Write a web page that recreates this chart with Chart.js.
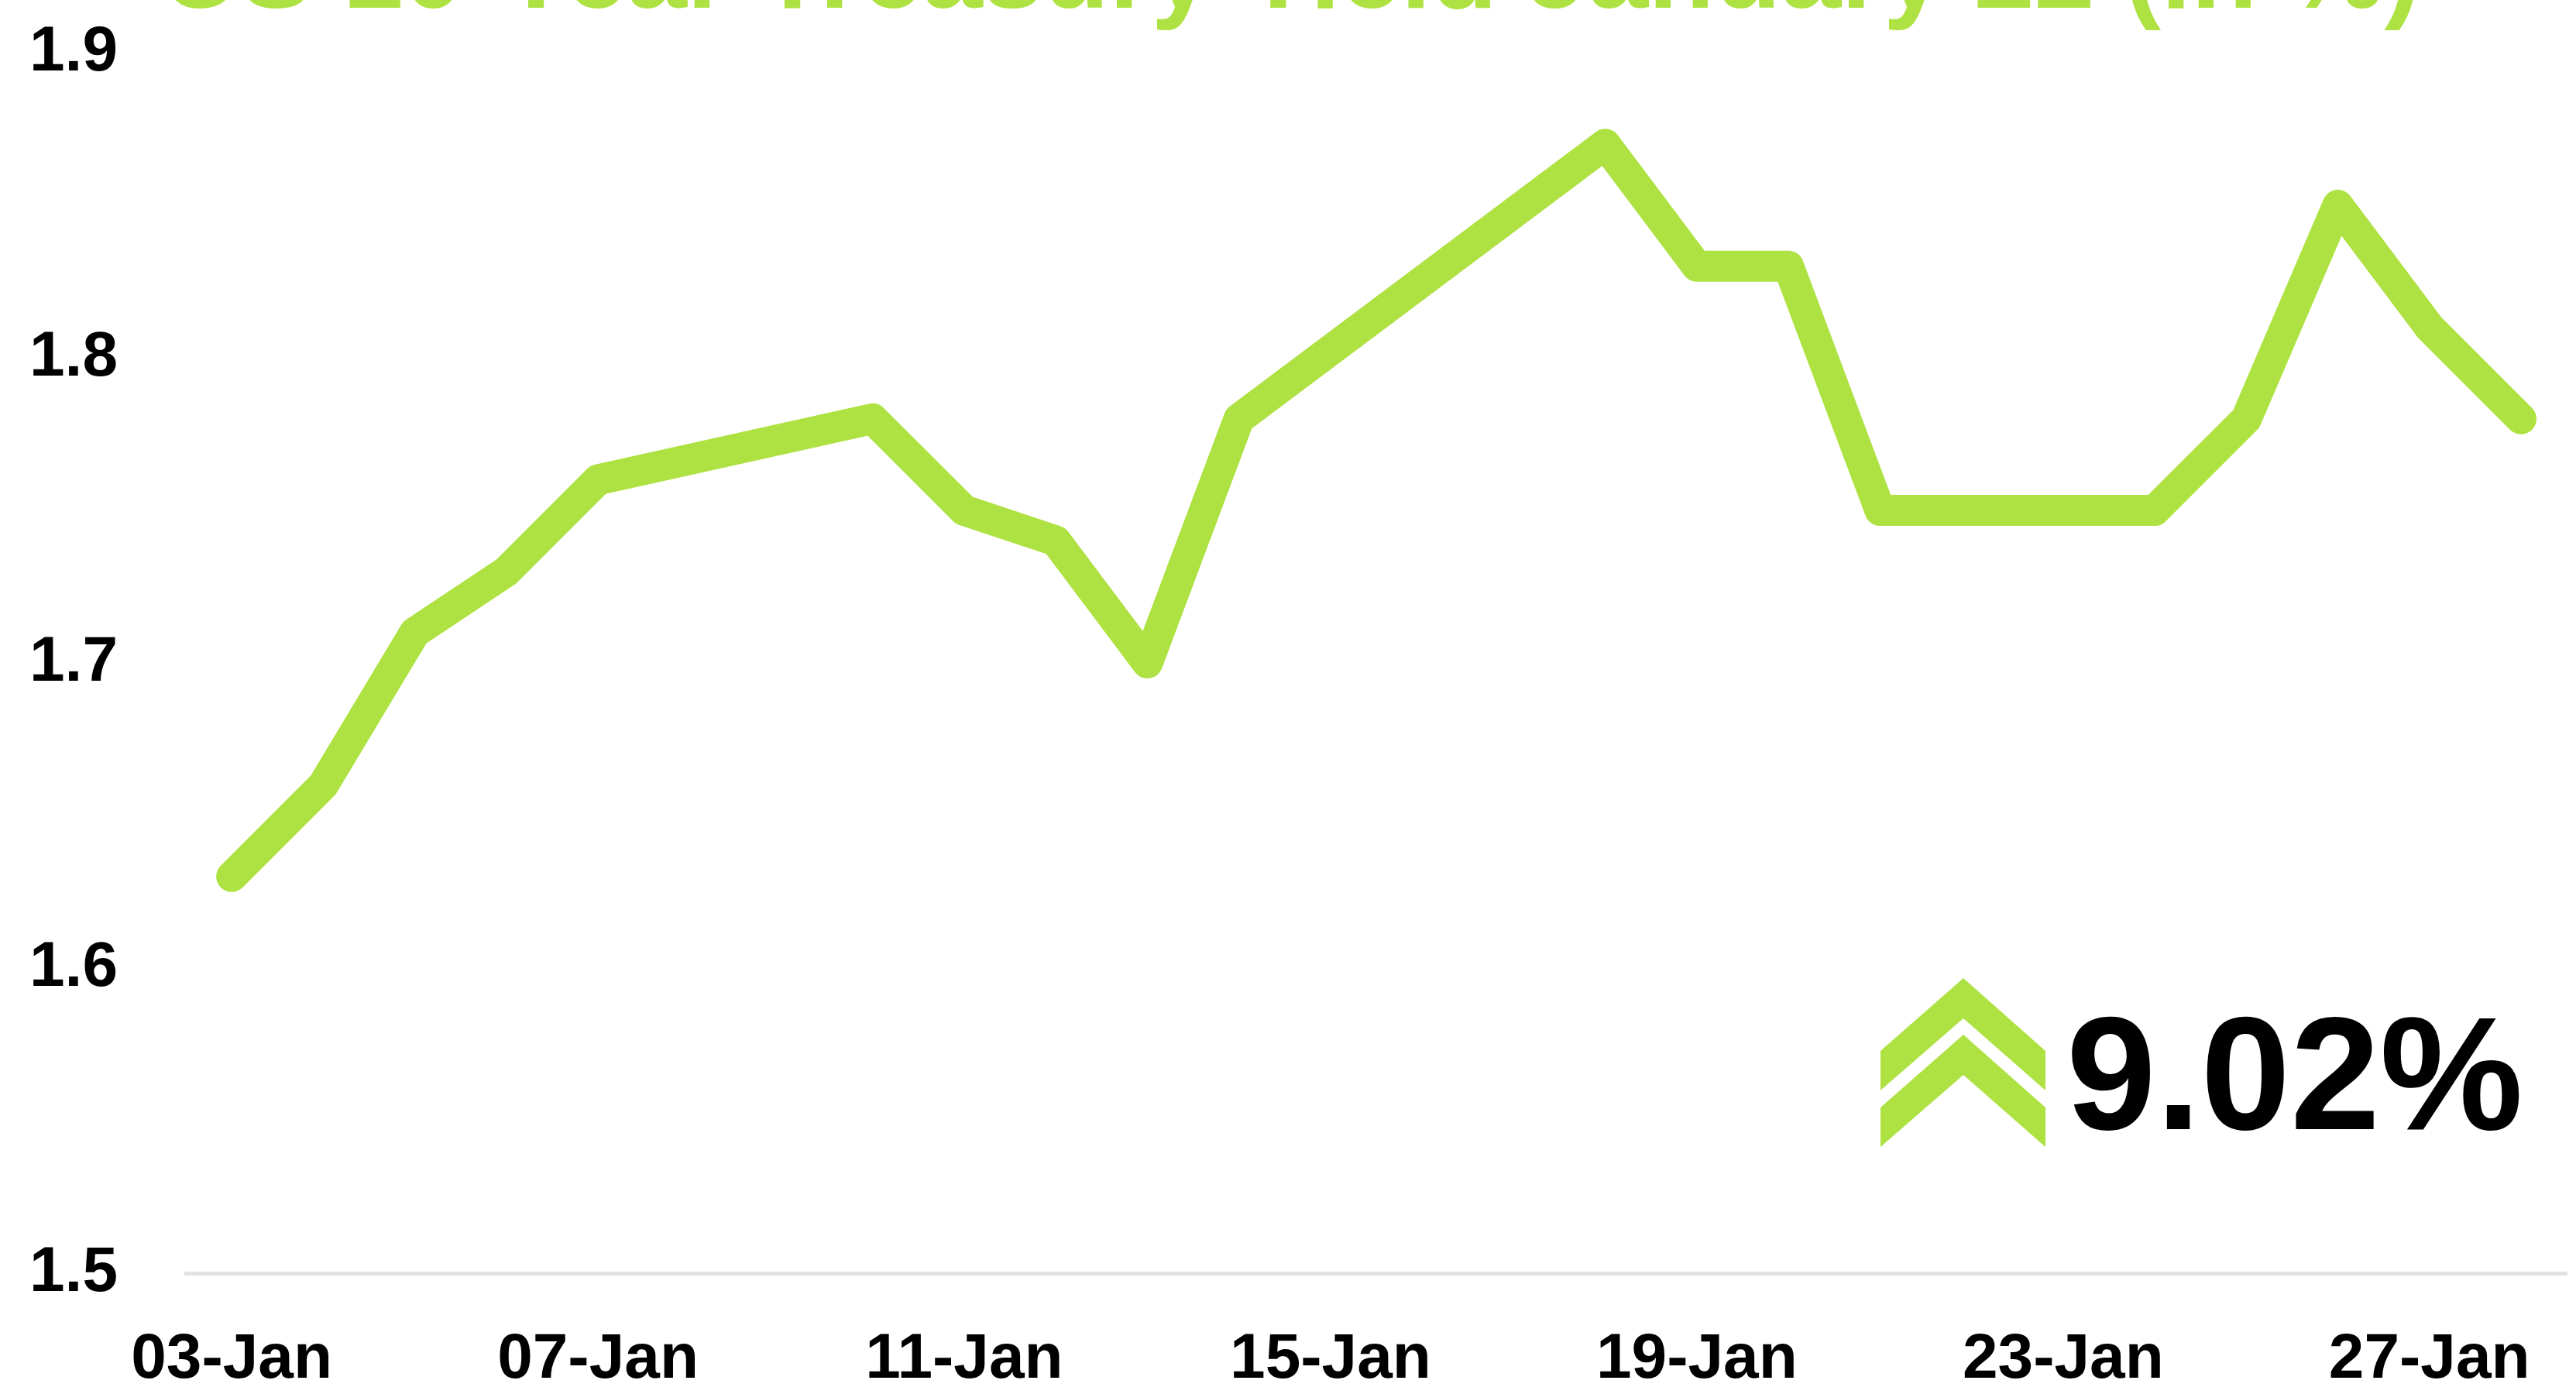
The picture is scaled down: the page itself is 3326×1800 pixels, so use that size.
<!DOCTYPE html>
<html>
<head>
<meta charset="utf-8">
<script src="https://cdn.jsdelivr.net/npm/chart.js@4.4.0/dist/chart.umd.min.js"></script>
<style>
  body { margin: 0; background: #fff; }
</style>
</head>
<body>
<canvas id="yieldChart" width="3326" height="1800"></canvas>
<script>
// daily categories, nulls = no trading (weekends, MLK day)
const days = ['03-Jan','04-Jan','05-Jan','06-Jan','07-Jan','08-Jan','09-Jan','10-Jan','11-Jan','12-Jan',
  '13-Jan','14-Jan','15-Jan','16-Jan','17-Jan','18-Jan','19-Jan','20-Jan','21-Jan','22-Jan',
  '23-Jan','24-Jan','25-Jan','26-Jan','27-Jan','28-Jan'];
const yields = [1.63, 1.66, 1.71, 1.73, 1.76, null, null, 1.78, 1.75, 1.74,
  1.70, 1.78, null, null, null, 1.87, 1.83, 1.83, 1.75, null,
  null, 1.75, 1.78, 1.85, 1.81, 1.78];
const yTicks = [1.5, 1.6, 1.7, 1.8, 1.9];
const titleText = 'US 10-Year Treasury Yield January 22 (in %)';
const changeText = '9.02%';

const green = '#aee242';

// title (cut at top edge), chevrons and the change figure
const extras = {
  id: 'extras',
  afterDraw(chart) {
    const ctx = chart.ctx;
    ctx.save();
    // title, fitted to its width in the picture
    let size = 100;
    ctx.font = 'bold ' + size + 'px "Liberation Sans"';
    const w = ctx.measureText(titleText).width;
    size = size * 2916 / w;
    ctx.font = 'bold ' + size + 'px "Liberation Sans"';
    ctx.fillStyle = green;
    ctx.textAlign = 'center';
    ctx.textBaseline = 'alphabetic';
    ctx.fillText(titleText, 1667, 10);

    // double chevron
    [0, 73].forEach(function (dy) {
      ctx.beginPath();
      ctx.moveTo(2428, 1357 + dy);
      ctx.lineTo(2535, 1263 + dy);
      ctx.lineTo(2641, 1357 + dy);
      ctx.lineTo(2641, 1408 + dy);
      ctx.lineTo(2535, 1315 + dy);
      ctx.lineTo(2428, 1408 + dy);
      ctx.closePath();
      ctx.fill();
    });

    ctx.fillStyle = '#000';
    ctx.textAlign = 'left';
    ctx.font = 'bold 208px "Liberation Sans"';
    ctx.fillText(changeText, 2668, 1458);
    ctx.restore();
  }
};

new Chart(document.getElementById('yieldChart'), {
  type: 'line',
  data: {
    labels: days,
    datasets: [{
      data: yields,
      borderColor: green,
      borderWidth: 40,
      borderCapStyle: 'round',
      borderJoinStyle: 'round',
      pointRadius: 0,
      pointHoverRadius: 0,
      tension: 0,
      spanGaps: true
    }]
  },
  options: {
    responsive: false,
    animation: false,
    layout: { padding: { top: 68, left: 38, right: -7, bottom: 0 } },
    plugins: {
      legend: { display: false },
      tooltip: { enabled: false }
    },
    scales: {
      x: {
        offset: true,
        grid: { display: false, drawTicks: false },
        border: { display: true, color: '#e2e2e2', width: 5 },
        afterFit: function (axis) { axis.height = 156; },
        ticks: {
          autoSkip: false,
          maxRotation: 0,
          padding: 71,
          color: '#000',
          font: { family: '"Liberation Sans"', weight: 'bold', size: 82, lineHeight: 1 },
          callback: function (v, i) { return i % 4 === 0 ? days[i] : ''; }
        }
      },
      y: {
        min: yTicks[0],
        max: yTicks[yTicks.length - 1],
        afterBuildTicks: function (axis) { axis.ticks = yTicks.map(function (v) { return { value: v }; }); },
        afterFit: function (axis) { axis.width = 202; },
        grid: { display: false, drawTicks: false },
        border: { display: false },
        ticks: {
          crossAlign: 'far',
          padding: 0,
          color: '#000',
          font: { family: '"Liberation Sans"', weight: 'bold', size: 82, lineHeight: 1 },
          callback: function (v) { return Number(v).toFixed(1); }
        }
      }
    }
  },
  plugins: [extras]
});
</script>
</body>
</html>
